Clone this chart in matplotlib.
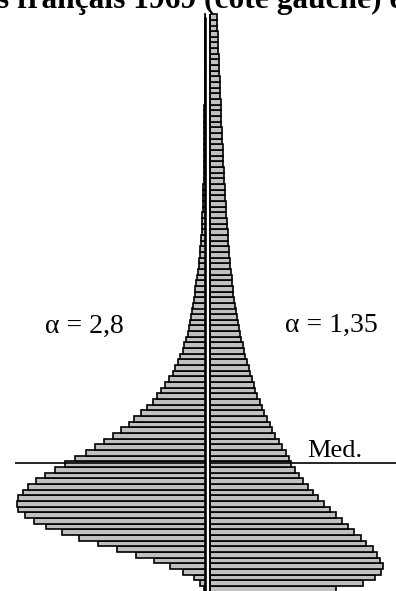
import numpy as np
import matplotlib.pyplot as plt

# Income classes, lowest at the bottom; bar lengths for each side of the pyramid
left_counts = [
    2, 6, 12, 23, 36, 52, 70, 89, 108, 127,
    144, 160, 172, 181, 188, 189, 188, 183, 178, 170,
    161, 151, 141, 131, 120, 111, 102, 93, 85, 77,
    72, 65, 59, 53, 49, 45, 41, 37, 33, 31,
    28, 26, 23, 22, 20, 18, 17, 16, 15, 14,
    13, 12, 11, 10.2, 9.3, 8.4, 7.7, 6.9, 6.3, 5.7,
    5.1, 4.7, 4.3, 4.0, 3.7, 3.4, 3.1, 2.9, 2.7, 2.5,
    2.3, 2.1, 2.0, 1.9, 1.8, 1.7, 1.6, 1.5, 1.4, 1.35,
    1.3, 1.25, 1.2, 1.15, 1.1, 1.05, 1.0, 0.95, 0.9, 0.85,
    0.8, 0.75, 0.7, 0.65, 0.6, 0.55, 0.5, 0.45, 0.4, 0.35,
    0.3, 0.25,
]
right_counts = [
    126, 153, 165.5, 171.5, 173, 170.5, 167, 163, 156.5, 151,
    144.5, 138, 132, 126, 120, 114.5, 108, 103, 98, 93,
    89.5, 85.5, 81, 79, 76, 72.5, 69, 65.5, 62, 60,
    57, 54.5, 52, 50, 47, 45.5, 44, 42, 40.5, 39,
    37, 35.5, 34, 33, 31.5, 30.5, 29, 28, 27, 26,
    25, 24.5, 23.8, 23.2, 22.6, 22, 21.4, 20.8, 20.3, 19.8,
    19.3, 18.8, 18.4, 18, 17.6, 17.2, 16.8, 16.4, 16, 15.7,
    15.4, 15.1, 14.8, 14.5, 14.2, 13.9, 13.6, 13.3, 13, 12.7,
    12.4, 12.1, 11.8, 11.6, 11.4, 11.2, 11, 10.7, 10.4, 10.2,
    10, 9.8, 9.6, 9.3, 9, 8.8, 8.6, 8.3, 8, 7.7,
    7.4, 7,
]
classes = np.arange(len(left_counts))
median_class = 22.75

title = "Salaires français 1969 (côté gauche) et revenus (côté droit)"
alpha_left = "α = 2,8"
alpha_right = "α = 1,35"
median_label = "Med."

W, H, DPI = 396, 591, 100
STEP = 5.66          # pixel height of one class
LEFT_W = 205.5       # pixel width of the left half
GAP = 4.0            # white strip between the halves
RIGHT_X0 = LEFT_W + GAP

BAR_FILL = "#c0c0c0"
SERIF = ["Liberation Serif", "DejaVu Serif"]

fig = plt.figure(figsize=(W / DPI, H / DPI), dpi=DPI)
fig.patch.set_facecolor("white")

axL = fig.add_axes([0, 0, LEFT_W / W, 1])
axR = fig.add_axes([RIGHT_X0 / W, 0, (W - RIGHT_X0) / W, 1])

ylim = (0.5 / STEP, (H + 0.5) / STEP)
for ax in (axL, axR):
    ax.set_ylim(*ylim)
    ax.set_axis_off()
    ax.patch.set_alpha(0)
axL.set_xlim(LEFT_W, 0)
axR.set_xlim(0, W - RIGHT_X0)

bar_kw = dict(height=1.0, align="edge", color=BAR_FILL,
              edgecolor="black", linewidth=1.2)
axL.barh(classes, left_counts, **bar_kw)
axR.barh(classes, right_counts, **bar_kw)

# central axis lines on both sides of the white strip
axL.plot([0.2, 0.2], [0, len(classes) - 0.5], color="black", lw=1.9,
         clip_on=False, solid_capstyle="butt")
axR.plot([0.2, 0.2], [0, len(classes)], color="black", lw=1.4,
         clip_on=False, solid_capstyle="butt")

# median line
axL.plot([0, max(left_counts) + 1.5], [median_class, median_class],
         color="black", lw=1.2, solid_capstyle="butt")
axR.plot([0, W - RIGHT_X0], [median_class, median_class],
         color="black", lw=1.2, solid_capstyle="butt")

def fig_text(x, y, s, size, **kw):
    fig.text(x / W, 1 - y / H, s, fontsize=size, family=SERIF,
             va="baseline", **kw)

fig_text(-97, 8, title, 22.6, weight="bold", ha="left")
fig_text(45, 333, alpha_left, 20, ha="left")
fig_text(285, 332, alpha_right, 20, ha="left")
fig_text(307, 457, median_label, 19, ha="left")

fig.savefig("out.png", dpi=DPI, facecolor="white")
